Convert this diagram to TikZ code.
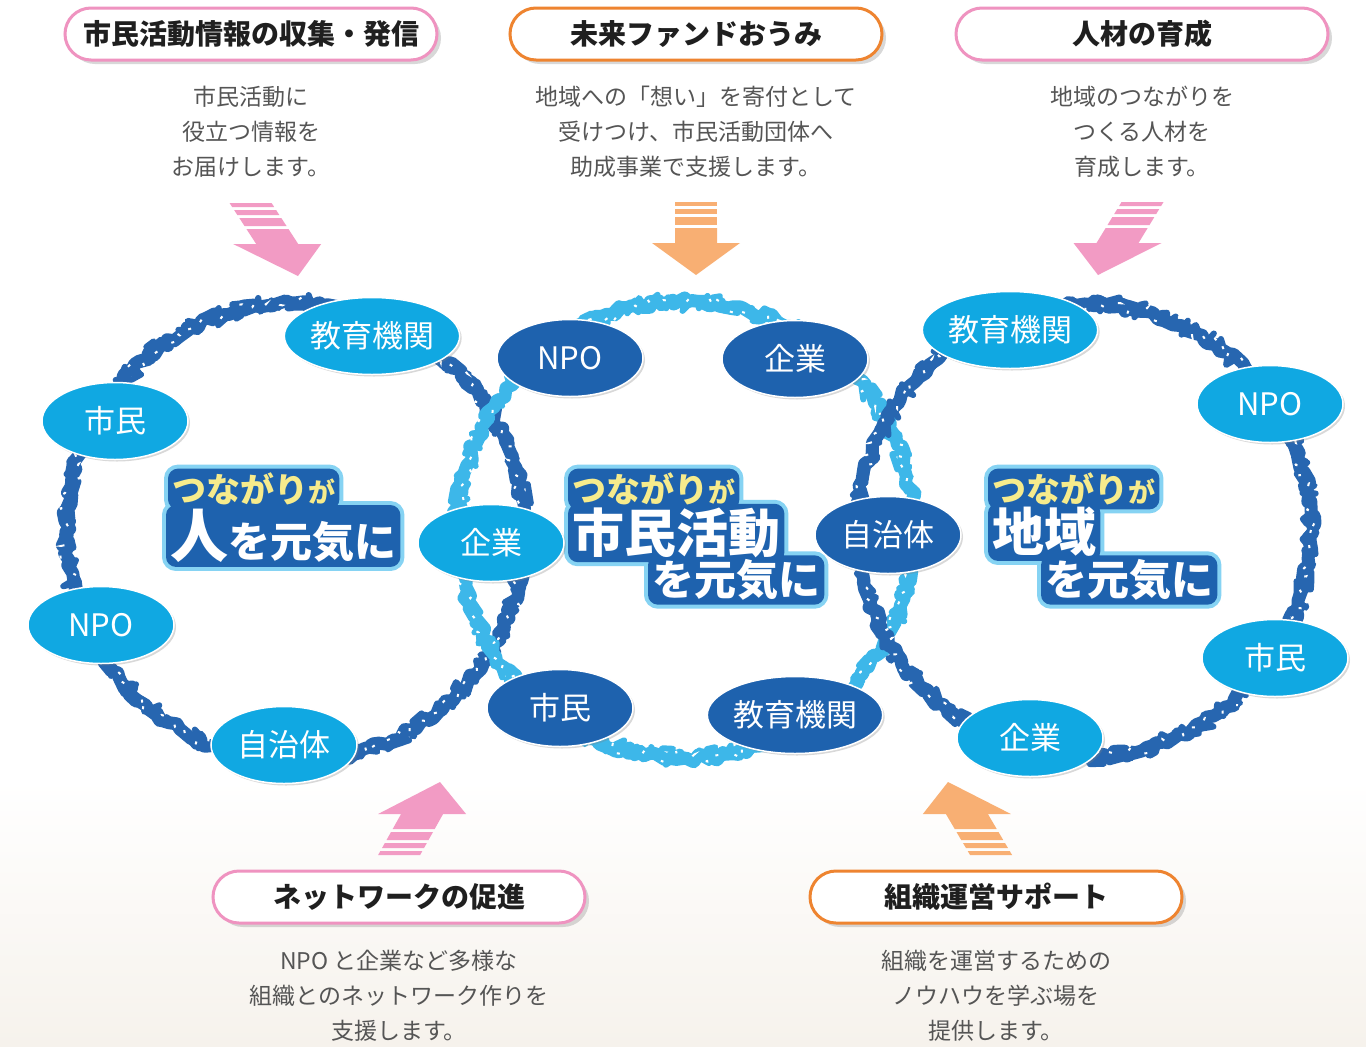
\documentclass[tikz,border=0pt]{standalone}
\usepackage{fontspec}
\setmainfont{Noto Sans CJK JP}
\usetikzlibrary{shapes.geometric, shadows, backgrounds, decorations.pathmorphing}

\definecolor{pinkline}{HTML}{EF93C0}
\definecolor{orangeline}{HTML}{EE8430}
\definecolor{pinkarrow}{HTML}{F29BC4}
\definecolor{orangearrow}{HTML}{F8AF73}
\definecolor{ringdark}{HTML}{2766B0}
\definecolor{ringlight}{HTML}{3DB7E9}
\definecolor{nodelight}{HTML}{10A8E2}
\definecolor{nodedark}{HTML}{1E62AE}
\definecolor{textgray}{HTML}{555555}
\definecolor{glowcolor}{HTML}{86D3F3}
\definecolor{catchyellow}{HTML}{F6EB8C}
\definecolor{paperbeige}{HTML}{F6F2EC}

% thick striped arrow: tip x, tip y, slant, +1 down / -1 up, colour
\newcommand{\fatarrow}[5]{%
  \begin{scope}[shift={(#1,#2)}, yscale=#4]
    \fill[#5] (0,0) -- ({44-32*(#3)},-32) -- ({21-32*(#3)},-32) -- ({21-47*(#3)},-47)
      -- ({-21-47*(#3)},-47) -- ({-21-32*(#3)},-32) -- ({-44-32*(#3)},-32) -- cycle;
    \fill[#5] ({-21-50*(#3)},-50) -- ({21-50*(#3)},-50) -- ({21-58*(#3)},-58) -- ({-21-58*(#3)},-58) -- cycle;
    \fill[#5] ({-21-61*(#3)},-61) -- ({21-61*(#3)},-61) -- ({21-66*(#3)},-66) -- ({-21-66*(#3)},-66) -- cycle;
    \fill[#5] ({-21-69*(#3)},-69) -- ({21-69*(#3)},-69) -- ({21-73*(#3)},-73) -- ({-21-73*(#3)},-73) -- cycle;
  \end{scope}}

\begin{document}
\begin{tikzpicture}[
  x=1pt, y=-1pt,
  tag/.style={
    rectangle, rounded corners=26, minimum width=372, minimum height=52,
    fill=white, line width=3, text=black!88,
    font=\fontsize{28}{28}\selectfont\bfseries,
    drop shadow={shadow xshift=4pt, shadow yshift=-4pt, opacity=0.3}
  },
  pinktag/.style={tag, draw=pinkline},
  orangetag/.style={tag, draw=orangeline},
  note/.style={align=center, text=textgray, font=\fontsize{23}{35}\selectfont},
  member/.style={
    ellipse, minimum width=146, minimum height=77, inner sep=0,
    draw=white, line width=1.5, text=white,
    font=\fontsize{31}{31}\selectfont,
    drop shadow={shadow xshift=2pt, shadow yshift=-2pt, opacity=0.3}
  },
  lightmember/.style={member, fill=nodelight},
  darkmember/.style={member, fill=nodedark},
  catch/.style={anchor=west, inner sep=4, text=white},
  catchtop/.style={catch, text=catchyellow, font=\fontsize{34}{34}\selectfont\bfseries},
  catchbig/.style={catch, font=\fontsize{52}{52}\selectfont\bfseries},
  catchmid/.style={catch, font=\fontsize{42}{42}\selectfont\bfseries},
  ring/.style={line width=13, line join=round,
    decorate, decoration={random steps, segment length=6, amplitude=4}},
  ringfuzz/.style={line width=6, line join=round,
    decorate, decoration={random steps, segment length=4, amplitude=9}},
  ringholes/.style={white, line width=2, dash pattern=on 3pt off 27pt,
    decorate, decoration={random steps, segment length=4, amplitude=7}},
]
  \useasboundingbox (0,0) rectangle (1366,1047);
  \pgfmathsetseed{11}

  \begin{scope}[on background layer]
    % paper
    \fill[white] (0,0) rectangle (1366,780);
    \shade[top color=white, bottom color=paperbeige] (0,780) rectangle (1366,1047);
    % rings
    \draw[ring, ringdark] (295,532) circle (229);
    \draw[ringfuzz, ringdark] (295,532) circle (229);
    \draw[ringholes] (295,532) circle (229);
    \draw[ring, ringlight] (686,530) circle (228);
    \draw[ringfuzz, ringlight] (686,530) circle (228);
    \draw[ringholes] (686,530) circle (228);
    \draw[ring, ringdark] (1085,530) circle (226);
    \draw[ringfuzz, ringdark] (1085,530) circle (226);
    \draw[ringholes] (1085,530) circle (226);
    % arrows
    \fatarrow{298}{276}{0.65}{1}{pinkarrow}
    \fatarrow{696}{275}{0}{1}{orangearrow}
    \fatarrow{1098}{275}{-0.61}{1}{pinkarrow}
    \fatarrow{440}{782}{0.56}{-1}{pinkarrow}
    \fatarrow{948}{782}{-0.59}{-1}{orangearrow}
  \end{scope}

  % catch phrases
  \node[catchtop] (la) at (168,489) {つながり{\fontsize{27}{27}\selectfont が}};
  \node[catch, font=\bfseries] (lb) at (166,536)
    {{\fontsize{58}{58}\selectfont 人}{\fontsize{42}{42}\selectfont を元気に}};
  \node[catchtop] (ca) at (568,489) {つながり{\fontsize{27}{27}\selectfont が}};
  \node[catchbig] (cb) at (568,533) {市民活動};
  \node[catchmid] (cc) at (648,580) {を元気に};
  \node[catchtop] (ra) at (988,489) {つながり{\fontsize{27}{27}\selectfont が}};
  \node[catchbig] (rb) at (988,532) {地域};
  \node[catchmid] (rc) at (1041,580) {を元気に};

  \begin{scope}[on background layer]
    \draw[glowcolor, line width=8, rounded corners=10]
      (la.south west) rectangle (la.north east) (lb.south west) rectangle (lb.north east);
    \fill[nodedark, rounded corners=10]
      (la.south west) rectangle (la.north east) (lb.south west) rectangle (lb.north east);
    \draw[glowcolor, line width=8, rounded corners=10]
      (ca.south west) rectangle (ca.north east) (cb.south west) rectangle (cb.north east)
      (cc.south west) rectangle (cc.north east);
    \fill[nodedark, rounded corners=10]
      (ca.south west) rectangle (ca.north east) (cb.south west) rectangle (cb.north east)
      (cc.south west) rectangle (cc.north east);
    \draw[glowcolor, line width=8, rounded corners=10]
      (ra.south west) rectangle (ra.north east) (rb.south west) rectangle (rb.north east)
      (rc.south west) rectangle (rc.north east);
    \fill[nodedark, rounded corners=10]
      (ra.south west) rectangle (ra.north east) (rb.south west) rectangle (rb.north east)
      (rc.south west) rectangle (rc.north east);
  \end{scope}

  % left ring members
  \node[lightmember] (lKyoiku) at (372,336) {教育機関};
  \node[lightmember] (lShimin) at (115,421) {市民};
  \node[lightmember] (lNpo)    at (101,625) {NPO};
  \node[lightmember] (lJichi)  at (284,745) {自治体};
  \node[lightmember] (lKigyo)  at (491,543) {企業};

  % centre ring members
  \node[darkmember] (cNpo)    at (570,358) {NPO};
  \node[darkmember] (cKigyo)  at (795,359) {企業};
  \node[darkmember] (cShimin) at (560,708) {市民};
  \node[darkmember] (cKyoiku) at (795,715) {教育機関};
  \node[darkmember] (cJichi)  at (888,535) {自治体};

  % right ring members
  \node[lightmember] (rKyoiku) at (1010,330) {教育機関};
  \node[lightmember] (rNpo)    at (1270,404) {NPO};
  \node[lightmember] (rShimin) at (1275,658) {市民};
  \node[lightmember] (rKigyo)  at (1030,738) {企業};

  % headings and notes
  \node[pinktag]   (info)    at (251,34)  {市民活動情報の収集・発信};
  \node[orangetag] (fund)    at (696,34)  {未来ファンドおうみ};
  \node[pinktag]   (people)  at (1142,34) {人材の育成};
  \node[pinktag]   (network) at (399,897) {ネットワークの促進};
  \node[orangetag] (support) at (996,897) {組織運営サポート};

  \node[note] (infoNote)    at (251,132)  {市民活動に\\役立つ情報を\\お届けします。};
  \node[note] (fundNote)    at (696,132)  {地域への「想い」を寄付として\\受けつけ、市民活動団体へ\\助成事業で支援します。};
  \node[note] (peopleNote)  at (1142,132) {地域のつながりを\\つくる人材を\\育成します。};
  \node[note] (networkNote) at (399,996)  {NPO と企業など多様な\\組織とのネットワーク作りを\\支援します。};
  \node[note] (supportNote) at (996,996)  {組織を運営するための\\ノウハウを学ぶ場を\\提供します。};
\end{tikzpicture}
\end{document}
